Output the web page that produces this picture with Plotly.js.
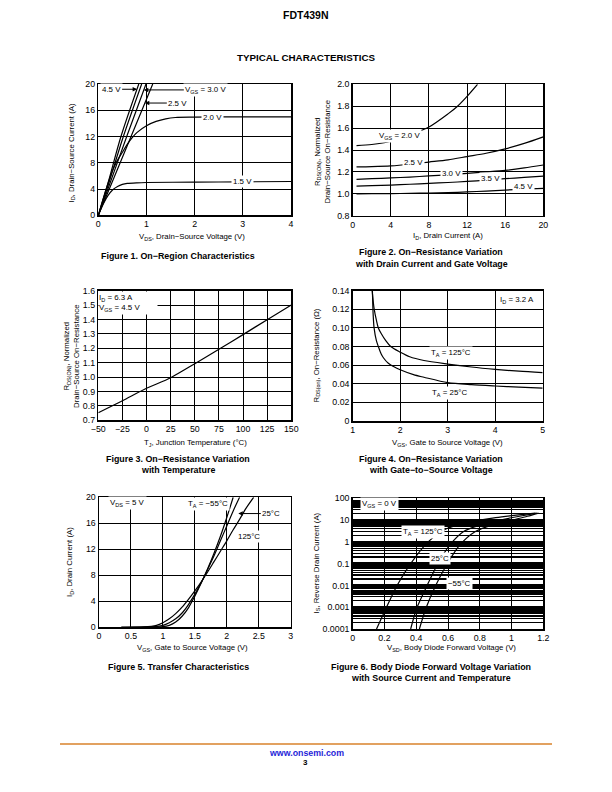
<!DOCTYPE html>
<html><head><meta charset="utf-8">
<script src="https://cdn.plot.ly/plotly-3.0.1.min.js"></script>
<style>html,body{margin:0;padding:0;background:#fff}#chart{width:612px;height:792px}</style>
</head><body><div id="chart"></div>
<script>
// ---------- Figure 1: On-Region Characteristics (VDS V, ID A) ----------
const f1_vgs45_x = [0, 0.2, 0.47, 0.84];
const f1_vgs45_y = [0, 4.9, 12, 20];
const f1_vgs35_x = [0, 0.2, 0.52, 0.90];
const f1_vgs35_y = [0, 4.5, 12, 20];
const f1_vgs30_x = [0, 0.2, 0.59, 0.99];
const f1_vgs30_y = [0, 4.0, 12, 20];
const f1_vgs25_x = [0, 0.2, 0.68, 1.13];
const f1_vgs25_y = [0, 3.5, 12, 20];
const f1_vgs20_x = [0, 0.1, 0.2, 0.3, 0.4, 0.5, 0.6, 0.7, 0.8, 1.0, 1.2, 1.4, 1.6, 2, 3, 4];
const f1_vgs20_y = [0, 2.5, 4.8, 6.9, 8.4, 9.6, 10.8, 11.8, 12.6, 13.65, 14.3, 14.7, 14.9, 14.95, 15.0, 15.0];
const f1_vgs15_x = [0, 0.05, 0.1, 0.2, 0.3, 0.4, 0.5, 0.6, 0.8, 1, 2, 3, 4];
const f1_vgs15_y = [0, 0.9, 1.7, 3.0, 3.9, 4.4, 4.7, 4.85, 4.95, 5.0, 5.05, 5.1, 5.15];
const f1_xticks = [0, 1, 2, 3, 4];
const f1_xtext = ['0', '1', '2', '3', '4'];
const f1_yticks = [0, 4, 8, 12, 16, 20];
const f1_ytext = ['0', '4', '8', '12', '16', '20'];

// ---------- Figure 2: Normalized RDS(on) vs ID ----------
const f2_vgs20_x = [0.4, 2, 4, 6, 8, 10, 11, 12, 13.1];
const f2_vgs20_y = [1.44, 1.45, 1.48, 1.54, 1.61, 1.73, 1.80, 1.89, 2.0];
const f2_id = [0.4, 2, 4, 6, 8, 10, 12, 14, 16, 18, 20];
const f2_vgs25_y = [1.245, 1.248, 1.255, 1.27, 1.29, 1.31, 1.34, 1.37, 1.41, 1.46, 1.52];
const f2_vgs30_y = [1.132, 1.138, 1.145, 1.153, 1.163, 1.174, 1.187, 1.20, 1.214, 1.236, 1.263];
const f2_vgs35_y = [1.071, 1.075, 1.08, 1.087, 1.095, 1.103, 1.113, 1.125, 1.138, 1.15, 1.162];
const f2_vgs45_y = [1.0, 1.001, 1.002, 1.004, 1.007, 1.011, 1.017, 1.025, 1.034, 1.042, 1.05];
const f2_xticks = [0, 4, 8, 12, 16, 20];
const f2_xtext = ['0', '4', '8', '12', '16', '20'];
const f2_yticks = [0.8, 1.0, 1.2, 1.4, 1.6, 1.8, 2.0];
const f2_ytext = ['0.8', '1.0', '1.2', '1.4', '1.6', '1.8', '2.0'];

// ---------- Figure 3: Normalized RDS(on) vs TJ ----------
const f3_tj = [-50, -25, 0, 25, 50, 75, 100, 125, 150];
const f3_r = [0.753, 0.836, 0.922, 0.996, 1.093, 1.193, 1.295, 1.399, 1.5];
const f3_xticks = [-50, -25, 0, 25, 50, 75, 100, 125, 150];
const f3_xtext = ['\u221250', '\u221225', '0', '25', '50', '75', '100', '125', '150'];
const f3_yticks = [0.7, 0.8, 0.9, 1.0, 1.1, 1.2, 1.3, 1.4, 1.5, 1.6];
const f3_ytext = ['0.7', '0.8', '0.9', '1.0', '1.1', '1.2', '1.3', '1.4', '1.5', '1.6'];

// ---------- Figure 4: RDS(on) vs VGS ----------
const f4_t125_x = [1.41, 1.45, 1.5, 1.54, 1.6, 1.7, 1.8, 2.0, 2.2, 2.5, 3, 3.5, 4, 4.5, 5];
const f4_t125_y = [0.14, 0.121, 0.108, 0.100, 0.094, 0.086, 0.080, 0.074, 0.069, 0.065, 0.0612, 0.058, 0.0555, 0.0535, 0.052];
const f4_t25_x = [1.415, 1.43, 1.45, 1.5, 1.54, 1.6, 1.65, 1.75, 1.85, 2.0, 2.28, 2.5, 3, 3.5, 4, 4.5, 5];
const f4_t25_y = [0.14, 0.115, 0.100, 0.086, 0.080, 0.072, 0.0677, 0.062, 0.0588, 0.055, 0.0498, 0.047, 0.0412, 0.039, 0.0376, 0.0364, 0.0354];
const f4_xticks = [1, 2, 3, 4, 5];
const f4_xtext = ['1', '2', '3', '4', '5'];
const f4_yticks = [0, 0.02, 0.04, 0.06, 0.08, 0.10, 0.12, 0.14];
const f4_ytext = ['0', '0.02', '0.04', '0.06', '0.08', '0.10', '0.12', '0.14'];

// ---------- Figure 5: Transfer Characteristics ----------
const f5_tm55_x = [0.35, 0.8, 1.0, 1.1, 1.2, 1.3, 1.4, 1.5, 1.6, 1.7, 1.8, 1.9, 2.0, 2.1];
const f5_tm55_y = [0, 0.02, 0.1, 0.3, 0.8, 1.7, 3.0, 4.8, 6.8, 9.0, 11.4, 14.0, 16.9, 20];
const f5_t25_x = [0.35, 0.8, 1.0, 1.1, 1.2, 1.3, 1.4, 1.5, 1.6, 1.7, 1.8, 1.9, 2.0, 2.1, 2.2];
const f5_t25_y = [0, 0.05, 0.3, 0.7, 1.3, 2.2, 3.5, 5.1, 6.9, 8.9, 11.0, 13.3, 15.6, 17.9, 20];
const f5_t125_x = [0.35, 0.7, 0.9, 1.0, 1.1, 1.2, 1.3, 1.4, 1.5, 1.6, 1.7, 1.8, 1.9, 2.0, 2.1, 2.2, 2.3, 2.42];
const f5_t125_y = [0, 0.05, 0.3, 0.7, 1.3, 2.1, 3.1, 4.3, 5.6, 7.0, 8.5, 10.1, 11.7, 13.3, 15.0, 16.6, 18.3, 20];
const f5_xticks = [0, 0.5, 1, 1.5, 2, 2.5, 3];
const f5_xtext = ['0', '0.5', '1', '1.5', '2', '2.5', '3'];
const f5_yticks = [0, 4, 8, 12, 16, 20];
const f5_ytext = ['0', '4', '8', '12', '16', '20'];

// ---------- Figure 6: Body Diode Forward Voltage ----------
const f6_t125_x = [0.15, 0.213, 0.281, 0.365, 0.475, 0.59, 0.7, 0.81, 0.9, 1.0, 1.15];
const f6_t125_y = [0.0001, 0.001, 0.0105, 0.1, 1, 4, 7, 10.3, 13, 16, 21];
const f6_t25_x = [0.365, 0.403, 0.47, 0.532, 0.612, 0.696, 0.8, 0.937, 1.05, 1.16];
const f6_t25_y = [0.0001, 0.0009, 0.0105, 0.087, 0.72, 2.9, 5.8, 10.3, 15, 21];
const f6_tm55_x = [0.42, 0.461, 0.524, 0.591, 0.675, 0.77, 0.88, 1.01, 1.1, 1.17];
const f6_tm55_y = [0.0001, 0.0009, 0.0105, 0.087, 0.72, 2.9, 6, 10.3, 15, 21];
const f6_xticks = [0, 0.2, 0.4, 0.6, 0.8, 1.0, 1.2];
const f6_xtext = ['0', '0.2', '0.4', '0.6', '0.8', '1', '1.2'];
const f6_yticks = [0.0001, 0.001, 0.01, 0.1, 1, 10, 100];
const f6_ytext = ['0.0001', '0.001', '0.01', '0.1', '1', '10', '100'];

// ---------- layout helpers ----------
const W = 612, H = 792;
const FONT = 'Liberation Sans, Arial, Helvetica, sans-serif';
const TICKSZ = 8.8, LBLSZ = 7.9;

function xax(p0, p1, range, vals, text, anchor, extra) {
  return Object.assign({
    domain: [p0 / W, p1 / W], range: range, anchor: anchor,
    tickmode: 'array', tickvals: vals, ticktext: text,
    showgrid: true, gridcolor: '#000', gridwidth: 1,
    showline: true, mirror: true, linecolor: '#000', linewidth: 1.5,
    zeroline: false, ticks: '', fixedrange: true,
    tickfont: {family: FONT, size: TICKSZ, color: '#000'}
  }, extra || {});
}
function yax(p0, p1, range, vals, text, anchor, extra) {
  return Object.assign({
    domain: [1 - p1 / H, 1 - p0 / H], range: range, anchor: anchor,
    tickmode: 'array', tickvals: vals, ticktext: text,
    showgrid: true, gridcolor: '#000', gridwidth: 1,
    showline: true, mirror: true, linecolor: '#000', linewidth: 1.5,
    zeroline: false, ticks: '', fixedrange: true,
    tickfont: {family: FONT, size: TICKSZ, color: '#000'}
  }, extra || {});
}
function ln(x, y, xa, ya) {
  return {x: x, y: y, xaxis: xa, yaxis: ya, mode: 'lines', type: 'scatter',
    line: {color: '#000', width: 1.2, shape: 'spline', smoothing: 0.8}, hoverinfo: 'skip'};
}

const traces = [
  ln(f1_vgs45_x, f1_vgs45_y, 'x', 'y'), ln(f1_vgs35_x, f1_vgs35_y, 'x', 'y'),
  ln(f1_vgs30_x, f1_vgs30_y, 'x', 'y'), ln(f1_vgs25_x, f1_vgs25_y, 'x', 'y'),
  ln(f1_vgs20_x, f1_vgs20_y, 'x', 'y'), ln(f1_vgs15_x, f1_vgs15_y, 'x', 'y'),
  ln(f2_vgs20_x, f2_vgs20_y, 'x2', 'y2'), ln(f2_id, f2_vgs25_y, 'x2', 'y2'),
  ln(f2_id, f2_vgs30_y, 'x2', 'y2'), ln(f2_id, f2_vgs35_y, 'x2', 'y2'),
  ln(f2_id, f2_vgs45_y, 'x2', 'y2'),
  ln(f3_tj, f3_r, 'x3', 'y3'),
  ln(f4_t125_x, f4_t125_y, 'x4', 'y4'), ln(f4_t25_x, f4_t25_y, 'x4', 'y4'),
  ln(f5_tm55_x, f5_tm55_y, 'x5', 'y5'), ln(f5_t25_x, f5_t25_y, 'x5', 'y5'),
  ln(f5_t125_x, f5_t125_y, 'x5', 'y5'),
  ln(f6_t125_x, f6_t125_y, 'x6', 'y6'), ln(f6_t25_x, f6_t25_y, 'x6', 'y6'),
  ln(f6_tm55_x, f6_tm55_y, 'x6', 'y6')
];

// minor grid positions for log axis (2..9 x 10^n)
const minorVals = [];
for (let e = -4; e < 2; e++) for (let d = 2; d <= 9; d++) minorVals.push(d * Math.pow(10, e));

const layout = {
  width: W, height: H, margin: {l: 0, r: 0, t: 0, b: 0},
  paper_bgcolor: '#fff', plot_bgcolor: '#fff', showlegend: false,
  xaxis: xax(98.3, 291, [0, 4], f1_xticks, f1_xtext, 'y'),
  yaxis: yax(84, 215.3, [0, 20], f1_yticks, f1_ytext, 'x'),
  xaxis2: xax(352.7, 543.3, [0, 20], f2_xticks, f2_xtext, 'y2'),
  yaxis2: yax(84.3, 215.7, [0.8, 2.0], f2_yticks, f2_ytext, 'x2'),
  xaxis3: xax(98.3, 291.3, [-50, 150], f3_xticks, f3_xtext, 'y3'),
  yaxis3: yax(290.7, 420.3, [0.7, 1.6], f3_yticks, f3_ytext, 'x3'),
  xaxis4: xax(352.7, 542.7, [1, 5], f4_xticks, f4_xtext, 'y4'),
  yaxis4: yax(290.7, 421, [0, 0.14], f4_yticks, f4_ytext, 'x4'),
  xaxis5: xax(99, 290.7, [0, 3], f5_xticks, f5_xtext, 'y5'),
  yaxis5: yax(497.3, 627.3, [0, 20], f5_yticks, f5_ytext, 'x5'),
  xaxis6: xax(352.7, 543.3, [0, 1.2], f6_xticks, f6_xtext, 'y6'),
  yaxis6: yax(498.3, 629, [-4, 2], f6_yticks, f6_ytext, 'x6', {
    type: 'log', gridwidth: 2.5,
    minor: {tickmode: 'array', tickvals: minorVals, showgrid: true, gridcolor: '#000', gridwidth: 1.3, ticks: ''}
  }),
  shapes: [
    {type: 'line', xref: 'paper', yref: 'paper', x0: 60 / W, x1: 552 / W, y0: 1 - 744 / H, y1: 1 - 744 / H,
     line: {color: '#d9822b', width: 1.5}}
  ],
  annotations: []
};

const A = layout.annotations;
function pnote(text, xpx, ypx, size, opts) {
  A.push(Object.assign({text: text, xref: 'paper', yref: 'paper', x: xpx / W, y: 1 - ypx / H,
    showarrow: false, xanchor: 'center', yanchor: 'middle',
    font: {family: FONT, size: size, color: '#000'}}, opts || {}));
}
function dnote(text, xa, ya, x, y, opts) {
  A.push(Object.assign({text: text, xref: xa, yref: ya, x: x, y: y, showarrow: false,
    xanchor: 'center', yanchor: 'middle', bgcolor: '#fff', borderpad: 1,
    font: {family: FONT, size: LBLSZ, color: '#000'}}, opts || {}));
}
function arrow(text, xa, ya, x, y, ax) {
  A.push({text: text, xref: xa, yref: ya, x: x, y: y, showarrow: true, ax: ax, ay: 0,
    arrowhead: 2, arrowsize: 0.9, arrowwidth: 1, arrowcolor: '#000', standoff: 0,
    bgcolor: '#fff', borderpad: 1,
    font: {family: FONT, size: LBLSZ, color: '#000'}});
}

// Header / footer
pnote('<b>FDT439N</b>', 306, 15, 10.5);
pnote('<b>TYPICAL CHARACTERISTICS</b>', 306, 57, 9.8);
pnote('<b><a href="http://www.onsemi.com" style="color:#1f1fd8">www.onsemi.com</a></b>', 306, 752.5, 8.8,
  {font: {family: FONT, size: 8.8, color: '#1f1fd8'}});
pnote('<b>3</b>', 305.5, 762, 8);

// Axis titles
const TT = 7.8;
pnote('V<sub>DS</sub>, Drain\u2212Source Voltage (V)', 192, 237.5, TT);
pnote('I<sub>D</sub>, Drain\u2212Source Current (A)', 71.5, 153, TT, {textangle: -90});
pnote('I<sub>D</sub>, Drain Current (A)', 448, 235.5, TT);
pnote('R<sub>DS(ON)</sub>, Normalized<br>Drain\u2212Source On\u2212Resistance', 321.5, 152, TT, {textangle: -90});
pnote('T<sub>J</sub>, Junction Temperature (\u00b0C)', 195, 442.5, TT);
pnote('R<sub>DS(ON)</sub>, Normalized<br>Drain\u2212Source On\u2212Resistance', 71, 356, TT, {textangle: -90});
pnote('V<sub>GS</sub>, Gate to Source Voltage (V)', 447, 443, TT);
pnote('R<sub>DS(on)</sub>, On\u2212Resistance (\u03a9)', 316.5, 356, TT, {textangle: -90});
pnote('V<sub>GS</sub>, Gate to Source Voltage (V)', 192, 648, TT);
pnote('I<sub>D</sub>, Drain Current (A)', 70, 562, TT, {textangle: -90});
pnote('V<sub>SD</sub>, Body Diode Forward Voltage (V)', 451, 647.5, TT);
pnote('I<sub>S</sub>, Reverse Drain Current (A)', 316.5, 563, TT, {textangle: -90});

// Captions
const CS = 8.9;
pnote('<b>Figure 1. On\u2212Region Characteristics</b>', 178, 255.5, CS);
pnote('<b>Figure 2. On\u2212Resistance Variation</b>', 431, 252, CS);
pnote('<b>with Drain Current and Gate Voltage</b>', 431, 264, CS);
pnote('<b>Figure 3. On\u2212Resistance Variation</b>', 178, 459, CS);
pnote('<b>with Temperature</b>', 178, 470, CS);
pnote('<b>Figure 4. On\u2212Resistance Variation</b>', 431, 459, CS);
pnote('<b>with Gate\u2212to\u2212Source Voltage</b>', 431, 470, CS);
pnote('<b>Figure 5. Transfer Characteristics</b>', 178, 667, CS);
pnote('<b>Figure 6. Body Diode Forward Voltage Variation</b>', 431, 666.5, CS);
pnote('<b>with Source Current and Temperature</b>', 431, 678, CS);

// Figure 1 labels
arrow('4.5 V', 'x', 'y', 0.806, 19.2, -26);
arrow('V<sub>GS</sub> = 3.0 V', 'x', 'y', 0.945, 19.1, 62);
arrow('2.5 V', 'x', 'y', 0.966, 17.1, 33);
dnote('2.0 V', 'x', 'y', 2.37, 14.97);
dnote('1.5 V', 'x', 'y', 3.0, 5.1);
// Figure 2 labels
dnote('V<sub>GS</sub> = 2.0 V', 'x2', 'y2', 4.89, 1.528);
dnote('2.5 V', 'x2', 'y2', 6.39, 1.288);
dnote('3.0 V', 'x2', 'y2', 10.34, 1.184);
dnote('3.5 V', 'x2', 'y2', 14.41, 1.138);
dnote('4.5 V', 'x2', 'y2', 17.9, 1.065);
// Figure 3 label box
dnote('I<sub>D</sub> = 6.3 A<br>V<sub>GS</sub> = 4.5 V', 'x3', 'y3', -50, 1.6,
  {xanchor: 'left', yanchor: 'top', align: 'left', width: 58, height: 22, borderpad: 0});
// Figure 4 labels
dnote('I<sub>D</sub> = 3.2 A', 'x4', 'y4', 4.45, 0.130);
dnote('T<sub>A</sub> = 125\u00b0C', 'x4', 'y4', 3.07, 0.0727);
dnote('T<sub>A</sub> = 25\u00b0C', 'x4', 'y4', 3.04, 0.0304);
// Figure 5 labels
dnote('V<sub>DS</sub> = 5 V', 'x5', 'y5', 0.44, 19.2);
dnote('T<sub>A</sub> = \u221255\u00b0C', 'x5', 'y5', 1.71, 18.9);
arrow('25\u00b0C', 'x5', 'y5', 2.18, 17.5, 33);
dnote('125\u00b0C', 'x5', 'y5', 2.34, 13.9);
// Figure 6 labels (log axis -> log10 positions)
dnote('V<sub>GS</sub> = 0 V', 'x6', 'y6', 0.166, Math.log10(53));
dnote('T<sub>A</sub> = 125\u00b0C', 'x6', 'y6', 0.444, Math.log10(2.93));
dnote('25\u00b0C', 'x6', 'y6', 0.549, Math.log10(0.176));
dnote('\u221255\u00b0C', 'x6', 'y6', 0.671, Math.log10(0.0126));

Plotly.newPlot('chart', traces, layout, {staticPlot: true, displayModeBar: false});
</script>
</body></html>
